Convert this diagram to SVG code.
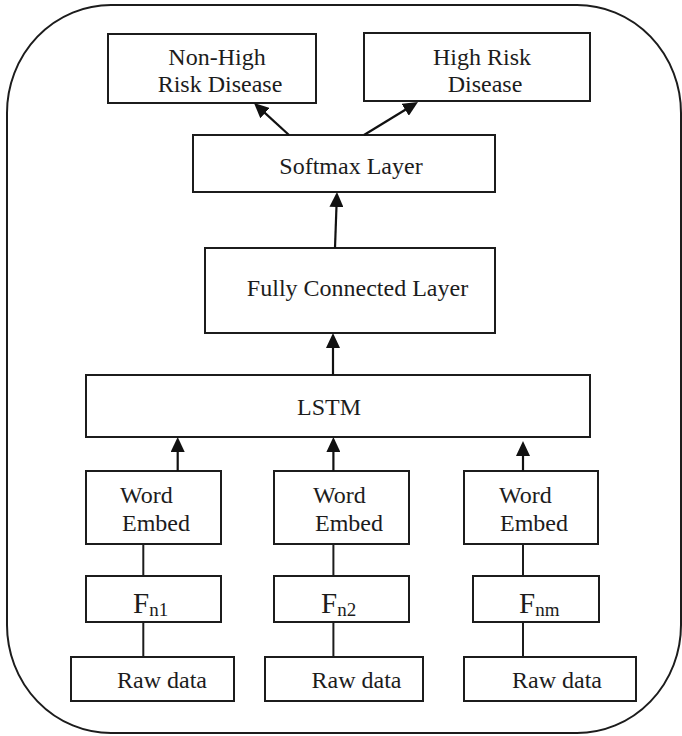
<svg xmlns="http://www.w3.org/2000/svg" width="682" height="736" viewBox="0 0 682 736">
  <style>
    .box { fill: #ffffff; stroke: #1c1c1c; stroke-width: 2; }
    .frame { fill: none; stroke: #1c1c1c; stroke-width: 2; }
    .lbl { font-family: "Liberation Serif", "Times New Roman", serif; font-size: 24px; fill: #1c1c1c; }
    .big { font-size: 29px; }
    .sub { font-size: 19px; }
    .arrow { stroke: #111111; stroke-width: 2.2; fill: none; }
    .link { stroke: #1c1c1c; stroke-width: 2; fill: none; }
  </style>
  <defs>
    <marker id="head" markerUnits="userSpaceOnUse" viewBox="0 0 15 14" markerWidth="15" markerHeight="14" refX="4" refY="7" orient="auto">
      <path d="M0,0 L15,7 L0,14 Z" fill="#111111"/>
    </marker>
  </defs>

  <rect width="682" height="736" fill="#ffffff"/>

  <!-- rounded outer frame; its right side sits on the canvas edge -->
  <rect class="frame" x="7" y="5" width="674" height="728" rx="104" ry="108"/>

  <g id="non-high-risk">
    <rect class="box" x="108" y="34" width="208" height="69"/>
    <text class="lbl" x="217" y="65" text-anchor="middle">Non-High</text>
    <text class="lbl" x="220" y="92" text-anchor="middle">Risk Disease</text>
  </g>

  <g id="high-risk">
    <rect class="box" x="364" y="33" width="226" height="68"/>
    <text class="lbl" x="482" y="65" text-anchor="middle">High Risk</text>
    <text class="lbl" x="485" y="92" text-anchor="middle">Disease</text>
  </g>

  <g id="softmax">
    <rect class="box" x="193" y="135" width="302" height="57"/>
    <text class="lbl" x="351" y="174" text-anchor="middle">Softmax Layer</text>
  </g>

  <g id="fully-connected">
    <rect class="box" x="205" y="248" width="290" height="85"/>
    <text class="lbl" x="357.5" y="296" text-anchor="middle">Fully Connected Layer</text>
  </g>

  <g id="lstm">
    <rect class="box" x="86" y="375" width="504" height="62"/>
    <text class="lbl" x="329" y="415" text-anchor="middle">LSTM</text>
  </g>

  <g id="embed-1">
    <rect class="box" x="86" y="471" width="135" height="73"/>
    <text class="lbl" x="120" y="503">Word</text>
    <text class="lbl" x="122" y="531">Embed</text>
  </g>
  <g id="embed-2">
    <rect class="box" x="274" y="471" width="135" height="73"/>
    <text class="lbl" x="313" y="503">Word</text>
    <text class="lbl" x="315" y="531">Embed</text>
  </g>
  <g id="embed-3">
    <rect class="box" x="464" y="471" width="134" height="73"/>
    <text class="lbl" x="499" y="503">Word</text>
    <text class="lbl" x="500" y="531">Embed</text>
  </g>

  <g id="feature-1">
    <rect class="box" x="86" y="576" width="135" height="46"/>
    <text class="lbl" x="133" y="613"><tspan class="big">F</tspan><tspan class="sub" dy="3">n1</tspan></text>
  </g>
  <g id="feature-2">
    <rect class="box" x="274" y="576" width="135" height="46"/>
    <text class="lbl" x="321" y="613"><tspan class="big">F</tspan><tspan class="sub" dy="3">n2</tspan></text>
  </g>
  <g id="feature-m">
    <rect class="box" x="473" y="576" width="126" height="46"/>
    <text class="lbl" x="519" y="613"><tspan class="big">F</tspan><tspan class="sub" dy="3">nm</tspan></text>
  </g>

  <g id="raw-1">
    <rect class="box" x="71" y="657" width="163" height="44"/>
    <text class="lbl" x="117" y="688">Raw data</text>
  </g>
  <g id="raw-2">
    <rect class="box" x="265" y="657" width="158" height="44"/>
    <text class="lbl" x="311.5" y="688">Raw data</text>
  </g>
  <g id="raw-3">
    <rect class="box" x="464" y="657" width="172" height="44"/>
    <text class="lbl" x="512" y="688">Raw data</text>
  </g>

  <g id="connectors">
    <!-- softmax to the two outputs -->
    <line class="arrow" x1="289" y1="135" x2="262.1" y2="110.4" marker-end="url(#head)"/>
    <line class="arrow" x1="364" y1="135" x2="408.6" y2="107.7" marker-end="url(#head)"/>
    <!-- fully connected to softmax -->
    <line class="arrow" x1="335" y1="248" x2="336.6" y2="203" marker-end="url(#head)"/>
    <!-- lstm to fully connected -->
    <line class="arrow" x1="333" y1="375" x2="333" y2="344" marker-end="url(#head)"/>
    <!-- embeddings to lstm -->
    <line class="arrow" x1="177.7" y1="471" x2="177.7" y2="448" marker-end="url(#head)"/>
    <line class="arrow" x1="333.4" y1="471" x2="333.4" y2="448" marker-end="url(#head)"/>
    <line class="arrow" x1="523" y1="471" x2="523" y2="452" marker-end="url(#head)"/>
    <!-- plain links raw data -> feature -> embedding -->
    <line class="link" x1="143.3" y1="544" x2="143.3" y2="576"/>
    <line class="link" x1="143.3" y1="622" x2="143.3" y2="657"/>
    <line class="link" x1="333.4" y1="544" x2="333.4" y2="576"/>
    <line class="link" x1="333.4" y1="622" x2="333.4" y2="657"/>
    <line class="link" x1="523" y1="544" x2="523" y2="576"/>
    <line class="link" x1="523" y1="622" x2="523" y2="657"/>
  </g>
</svg>
